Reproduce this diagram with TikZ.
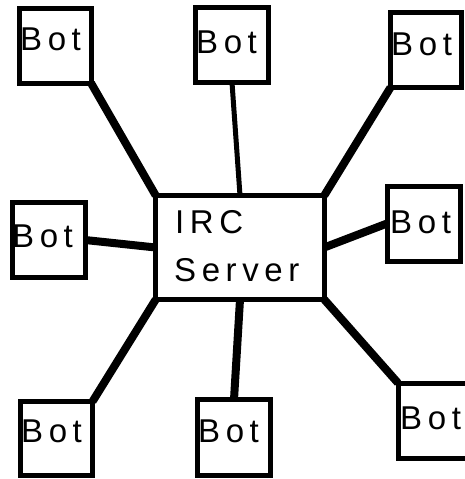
\documentclass[tikz,border=0pt]{standalone}
\usepackage{fontspec}
\setmainfont{Liberation Sans}
\newfontfamily\botfont[LetterSpace=17]{Liberation Sans}

\begin{document}
\begin{tikzpicture}[x=1pt,y=-1pt]
	\tikzstyle{bx} = [draw,line width=5pt,rectangle,outer sep=0pt,inner sep=0pt,minimum width=73pt,minimum height=75pt]
	\tikzstyle{lbl} = [anchor=base west,inner sep=0pt,font=\botfont\fontsize{33}{36}\selectfont]
	\tikzstyle{es} = [line width=8pt]
	\useasboundingbox (0,0) rectangle (464,479);
	% the bots round the server
	\node [bx,minimum width=72pt] (v1) at (55,45.5) {};
	\node [bx] (v2) at (232,45) {};
	\node [bx,minimum width=71pt] (v3) at (426,50) {};
	\node [bx,minimum width=72.5pt] (v4) at (48.75,240) {};
	\node [bx] (v5) at (423.5,223.5) {};
	\node [bx,minimum width=72pt,minimum height=74pt] (v6) at (56.5,438.5) {};
	\node [bx,minimum height=76pt] (v7) at (234,437.5) {};
	\node [bx,minimum width=72pt] (v8) at (434,420.5) {};
	\node [bx,minimum width=168.5pt,minimum height=104pt] (v9) at (240,247.5) {};
	% texts
	\node [lbl] (t1) at (20,50) {Bot};
	\node [lbl] (t2) at (196,53) {Bot};
	\node [lbl] (t3) at (391,55) {Bot};
	\node [lbl] (t4) at (12,247) {Bot};
	\node [lbl] (t5) at (390,233) {Bot};
	\node [lbl] (t6) at (21,442) {Bot};
	\node [lbl] (t7) at (198,442) {Bot};
	\node [lbl] (t8) at (400,429) {Bot};
	\node [lbl] (t9) at (175,233) {IRC};
	\node [lbl] (t10) at (174,281) {Server};
	% links
	\draw [es] (v1.south east) -- (v9.north west);
	\draw [line width=5pt] (v2.south) -- (v9.north);
	\draw [es] (v3.south west) -- (v9.north east);
	\draw [es] (v4.east) -- (v9.west);
	\draw [es] (v5.west) -- (v9.east);
	\draw [es] (v9.south west) -- (v6.north east);
	\draw [es] (v9.south) -- (v7.north);
	\draw [es] (v9.south east) -- (v8.north west);
\end{tikzpicture}
\end{document}
